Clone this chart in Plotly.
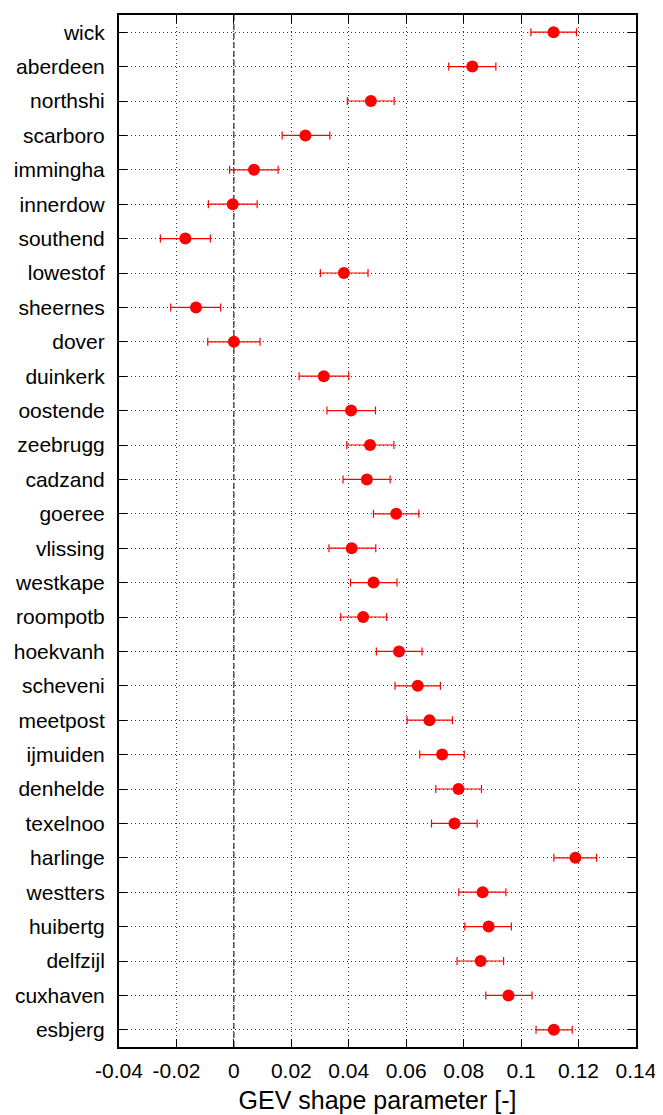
import plotly.graph_objects as go

stations = ['wick', 'aberdeen', 'northshi', 'scarboro', 'immingha', 'innerdow', 'southend',
            'lowestof', 'sheernes', 'dover', 'duinkerk', 'oostende', 'zeebrugg', 'cadzand',
            'goeree', 'vlissing', 'westkape', 'roompotb', 'hoekvanh', 'scheveni', 'meetpost',
            'ijmuiden', 'denhelde', 'texelnoo', 'harlinge', 'westters', 'huibertg', 'delfzijl',
            'cuxhaven', 'esbjerg']

shape = [0.1113, 0.0830, 0.0477, 0.0249, 0.0070, -0.0004, -0.0169,
         0.0383, -0.0132, 0.0000, 0.0313, 0.0408, 0.0474, 0.0463,
         0.0565, 0.0410, 0.0486, 0.0450, 0.0575, 0.0640, 0.0681,
         0.0725, 0.0782, 0.0768, 0.1189, 0.0866, 0.0887, 0.0859,
         0.0956, 0.1114]

ci_low = [0.1034, 0.0748, 0.0395, 0.0168, -0.0015, -0.0089, -0.0256,
          0.0301, -0.0220, -0.0091, 0.0227, 0.0324, 0.0393, 0.0380,
          0.0486, 0.0331, 0.0406, 0.0372, 0.0496, 0.0561, 0.0603,
          0.0647, 0.0703, 0.0688, 0.1114, 0.0783, 0.0804, 0.0777,
          0.0877, 0.1052]

ci_high = [0.1193, 0.0912, 0.0558, 0.0334, 0.0154, 0.0081, -0.0082,
           0.0467, -0.0046, 0.0091, 0.0400, 0.0493, 0.0557, 0.0544,
           0.0644, 0.0494, 0.0568, 0.0532, 0.0655, 0.0719, 0.0761,
           0.0802, 0.0862, 0.0847, 0.1263, 0.0947, 0.0966, 0.0939,
           0.1038, 0.1178]

err_plus = [h - s for h, s in zip(ci_high, shape)]
err_minus = [s - l for s, l in zip(shape, ci_low)]

fig = go.Figure()

fig.add_trace(go.Scatter(
    x=shape, y=stations, mode='markers',
    marker=dict(color='#ff0000', size=12),
    error_x=dict(type='data', symmetric=False, array=err_plus, arrayminus=err_minus,
                 color='#ff0000', thickness=1.2, width=4),
    showlegend=False))

# dashed zero axis like gnuplot
fig.add_shape(type='line', x0=0, x1=0, y0=0, y1=1, xref='x', yref='paper',
              line=dict(color='#555555', width=1.5, dash='6px,3px'), layer='below')

# page body has an 8px margin, so the figure is made 8px smaller
fig.update_layout(
    width=655, height=1107,
    margin=dict(l=111, r=27, t=7, b=68),
    plot_bgcolor='white', paper_bgcolor='white',
    font=dict(family='Liberation Sans, Arial, sans-serif', size=21, color='black'),
)

fig.update_xaxes(
    range=[-0.04, 0.14],
    tickvals=[-0.04, -0.02, 0, 0.02, 0.04, 0.06, 0.08, 0.1, 0.12, 0.14],
    ticktext=['-0.04', '-0.02', '0', '0.02', '0.04', '0.06', '0.08', '0.1', '0.12', '0.14'],
    showline=True, linecolor='black', linewidth=2, mirror='ticks',
    ticks='inside', ticklen=8, tickcolor='black',
    showgrid=True, gridcolor='#333333', griddash='1px,3px', gridwidth=1,
    zeroline=False, automargin=False, ticklabelstandoff=4,
    title=dict(text='GEV shape parameter [-]', standoff=10),
)

fig.update_yaxes(
    type='category', categoryorder='array', categoryarray=stations,
    range=[len(stations) - 0.5, -0.5],
    showline=True, linecolor='black', linewidth=2, mirror='ticks',
    ticks='inside', ticklen=8, tickcolor='black',
    showgrid=True, gridcolor='#333333', griddash='1px,3px', gridwidth=1,
    ticklabelstandoff=8, automargin=False,
)

fig.write_html("out.html")
